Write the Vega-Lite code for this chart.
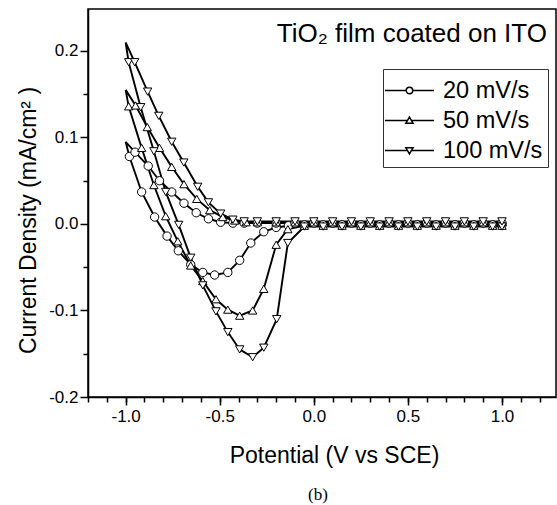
{
  "$schema": "https://vega.github.io/schema/vega-lite/v6.json",
  "width": 468,
  "height": 388,
  "autosize": "none",
  "padding": {"left": 88, "top": 9, "right": 1, "bottom": 108},
  "background": "white",
  "title": {"text": "(b)", "orient": "bottom", "anchor": "middle", "font": "Liberation Serif", "fontSize": 17, "fontWeight": "normal", "color": "black", "offset": 20, "dx": -4},
  "config": {
    "font": "Liberation Sans",
    "view": {"stroke": "black", "strokeWidth": 1.5},
    "axis": {"grid": false, "domainColor": "black", "domainWidth": 1.5, "tickColor": "black", "tickWidth": 1.5, "labelColor": "black", "labelFont": "Liberation Sans", "labelFontSize": 17, "titleColor": "black", "titleFont": "Liberation Sans", "titleFontSize": 23, "titleFontWeight": "normal", "labelOverlap": false, "labelFlush": false}
  },
  "data": {"values": [
    {"s":20,"i":0,"x":-1,"y":0.095},{"s":20,"i":1,"x":-0.98,"y":0.078},{"s":20,"i":2,"x":-0.915,"y":0.037},{"s":20,"i":3,"x":-0.846,"y":0.008},{"s":20,"i":4,"x":-0.78,"y":-0.014},{"s":20,"i":5,"x":-0.72,"y":-0.031},{"s":20,"i":6,"x":-0.654,"y":-0.047},{"s":20,"i":7,"x":-0.59,"y":-0.056},{"s":20,"i":8,"x":-0.527,"y":-0.059},{"s":20,"i":9,"x":-0.457,"y":-0.056},{"s":20,"i":10,"x":-0.394,"y":-0.042},{"s":20,"i":11,"x":-0.335,"y":-0.022},{"s":20,"i":12,"x":-0.266,"y":-0.009},{"s":20,"i":13,"x":-0.2,"y":-0.004},{"s":20,"i":14,"x":-0.135,"y":-0.002},{"s":20,"i":15,"x":-0.05,"y":-0.001},{"s":20,"i":16,"x":0.05,"y":-0.001},{"s":20,"i":17,"x":0.15,"y":-0.001},{"s":20,"i":18,"x":0.25,"y":-0.001},{"s":20,"i":19,"x":0.35,"y":-0.001},{"s":20,"i":20,"x":0.45,"y":-0.001},{"s":20,"i":21,"x":0.55,"y":-0.001},{"s":20,"i":22,"x":0.65,"y":-0.001},{"s":20,"i":23,"x":0.75,"y":-0.001},{"s":20,"i":24,"x":0.85,"y":-0.001},{"s":20,"i":25,"x":0.95,"y":-0.001},{"s":20,"i":26,"x":1,"y":-0.001},{"s":20,"i":27,"x":1,"y":0.001},{"s":20,"i":28,"x":0.9,"y":0.001},{"s":20,"i":29,"x":0.8,"y":0.001},{"s":20,"i":30,"x":0.7,"y":0.001},{"s":20,"i":31,"x":0.6,"y":0.001},{"s":20,"i":32,"x":0.5,"y":0.001},{"s":20,"i":33,"x":0.4,"y":0.001},{"s":20,"i":34,"x":0.3,"y":0.001},{"s":20,"i":35,"x":0.2,"y":0.001},{"s":20,"i":36,"x":0.1,"y":0.001},{"s":20,"i":37,"x":0,"y":0.001},{"s":20,"i":38,"x":-0.1,"y":0.001},{"s":20,"i":39,"x":-0.2,"y":0.001},{"s":20,"i":40,"x":-0.3,"y":0.001},{"s":20,"i":41,"x":-0.37,"y":0.001},{"s":20,"i":42,"x":-0.43,"y":0.001},{"s":20,"i":43,"x":-0.495,"y":0.002},{"s":20,"i":44,"x":-0.56,"y":0.006},{"s":20,"i":45,"x":-0.625,"y":0.013},{"s":20,"i":46,"x":-0.69,"y":0.024},{"s":20,"i":47,"x":-0.755,"y":0.037},{"s":20,"i":48,"x":-0.82,"y":0.05},{"s":20,"i":49,"x":-0.88,"y":0.067},{"s":20,"i":50,"x":-0.95,"y":0.083},{"s":20,"i":51,"x":-1,"y":0.095},
    {"s":50,"i":0,"x":-1,"y":0.155},{"s":50,"i":1,"x":-0.984,"y":0.136},{"s":50,"i":2,"x":-0.915,"y":0.088},{"s":50,"i":3,"x":-0.85,"y":0.045},{"s":50,"i":4,"x":-0.787,"y":0.009},{"s":50,"i":5,"x":-0.723,"y":-0.02},{"s":50,"i":6,"x":-0.654,"y":-0.048},{"s":50,"i":7,"x":-0.59,"y":-0.066},{"s":50,"i":8,"x":-0.52,"y":-0.087},{"s":50,"i":9,"x":-0.457,"y":-0.099},{"s":50,"i":10,"x":-0.394,"y":-0.106},{"s":50,"i":11,"x":-0.325,"y":-0.1},{"s":50,"i":12,"x":-0.266,"y":-0.075},{"s":50,"i":13,"x":-0.2,"y":-0.024},{"s":50,"i":14,"x":-0.138,"y":-0.006},{"s":50,"i":15,"x":-0.05,"y":-0.002},{"s":50,"i":16,"x":0.05,"y":-0.002},{"s":50,"i":17,"x":0.15,"y":-0.002},{"s":50,"i":18,"x":0.25,"y":-0.002},{"s":50,"i":19,"x":0.35,"y":-0.002},{"s":50,"i":20,"x":0.45,"y":-0.002},{"s":50,"i":21,"x":0.55,"y":-0.002},{"s":50,"i":22,"x":0.65,"y":-0.002},{"s":50,"i":23,"x":0.75,"y":-0.002},{"s":50,"i":24,"x":0.85,"y":-0.002},{"s":50,"i":25,"x":0.95,"y":-0.002},{"s":50,"i":26,"x":1,"y":-0.002},{"s":50,"i":27,"x":1,"y":0.002},{"s":50,"i":28,"x":0.9,"y":0.002},{"s":50,"i":29,"x":0.8,"y":0.002},{"s":50,"i":30,"x":0.7,"y":0.002},{"s":50,"i":31,"x":0.6,"y":0.002},{"s":50,"i":32,"x":0.5,"y":0.002},{"s":50,"i":33,"x":0.4,"y":0.002},{"s":50,"i":34,"x":0.3,"y":0.002},{"s":50,"i":35,"x":0.2,"y":0.002},{"s":50,"i":36,"x":0.1,"y":0.002},{"s":50,"i":37,"x":0,"y":0.002},{"s":50,"i":38,"x":-0.1,"y":0.002},{"s":50,"i":39,"x":-0.2,"y":0.002},{"s":50,"i":40,"x":-0.3,"y":0.002},{"s":50,"i":41,"x":-0.36,"y":0.002},{"s":50,"i":42,"x":-0.42,"y":0.004},{"s":50,"i":43,"x":-0.484,"y":0.008},{"s":50,"i":44,"x":-0.553,"y":0.016},{"s":50,"i":45,"x":-0.622,"y":0.029},{"s":50,"i":46,"x":-0.69,"y":0.046},{"s":50,"i":47,"x":-0.755,"y":0.066},{"s":50,"i":48,"x":-0.82,"y":0.088},{"s":50,"i":49,"x":-0.885,"y":0.112},{"s":50,"i":50,"x":-0.947,"y":0.137},{"s":50,"i":51,"x":-1,"y":0.155},
    {"s":100,"i":0,"x":-1,"y":0.21},{"s":100,"i":1,"x":-0.984,"y":0.187},{"s":100,"i":2,"x":-0.92,"y":0.135},{"s":100,"i":3,"x":-0.85,"y":0.084},{"s":100,"i":4,"x":-0.787,"y":0.037},{"s":100,"i":5,"x":-0.718,"y":-0.001},{"s":100,"i":6,"x":-0.654,"y":-0.039},{"s":100,"i":7,"x":-0.59,"y":-0.071},{"s":100,"i":8,"x":-0.52,"y":-0.101},{"s":100,"i":9,"x":-0.457,"y":-0.125},{"s":100,"i":10,"x":-0.394,"y":-0.145},{"s":100,"i":11,"x":-0.325,"y":-0.154},{"s":100,"i":12,"x":-0.266,"y":-0.143},{"s":100,"i":13,"x":-0.197,"y":-0.11},{"s":100,"i":14,"x":-0.138,"y":-0.022},{"s":100,"i":15,"x":-0.05,"y":-0.003},{"s":100,"i":16,"x":0.05,"y":-0.003},{"s":100,"i":17,"x":0.15,"y":-0.003},{"s":100,"i":18,"x":0.25,"y":-0.003},{"s":100,"i":19,"x":0.35,"y":-0.003},{"s":100,"i":20,"x":0.45,"y":-0.003},{"s":100,"i":21,"x":0.55,"y":-0.003},{"s":100,"i":22,"x":0.65,"y":-0.003},{"s":100,"i":23,"x":0.75,"y":-0.003},{"s":100,"i":24,"x":0.85,"y":-0.003},{"s":100,"i":25,"x":0.95,"y":-0.003},{"s":100,"i":26,"x":1,"y":-0.003},{"s":100,"i":27,"x":1,"y":0.003},{"s":100,"i":28,"x":0.9,"y":0.003},{"s":100,"i":29,"x":0.8,"y":0.003},{"s":100,"i":30,"x":0.7,"y":0.003},{"s":100,"i":31,"x":0.6,"y":0.003},{"s":100,"i":32,"x":0.5,"y":0.003},{"s":100,"i":33,"x":0.4,"y":0.003},{"s":100,"i":34,"x":0.3,"y":0.003},{"s":100,"i":35,"x":0.2,"y":0.003},{"s":100,"i":36,"x":0.1,"y":0.003},{"s":100,"i":37,"x":0,"y":0.003},{"s":100,"i":38,"x":-0.1,"y":0.003},{"s":100,"i":39,"x":-0.2,"y":0.003},{"s":100,"i":40,"x":-0.3,"y":0.003},{"s":100,"i":41,"x":-0.37,"y":0.003},{"s":100,"i":42,"x":-0.43,"y":0.005},{"s":100,"i":43,"x":-0.495,"y":0.012},{"s":100,"i":44,"x":-0.56,"y":0.025},{"s":100,"i":45,"x":-0.617,"y":0.043},{"s":100,"i":46,"x":-0.691,"y":0.071},{"s":100,"i":47,"x":-0.755,"y":0.095},{"s":100,"i":48,"x":-0.824,"y":0.125},{"s":100,"i":49,"x":-0.883,"y":0.153},{"s":100,"i":50,"x":-0.952,"y":0.187},{"s":100,"i":51,"x":-1,"y":0.21}
  ]},
  "layer": [
    {
      "mark": {"type": "line", "color": "black", "strokeWidth": 1.9},
      "encoding": {
        "x": {"field": "x", "type": "quantitative", "scale": {"domain": [-1.2, 1.287], "nice": false, "zero": false},
              "axis": {"orient": "bottom", "values": [-1, -0.5, 0, 0.5, 1], "tickSize": 8, "labelPadding": 3, "labelExpr": "(datum.value < 0 ? '-' : '') + format(abs(datum.value), '.1f')", "title": "Potential (V vs SCE)", "titlePadding": 20, "titleX": 246}},
        "y": {"field": "y", "type": "quantitative", "scale": {"domain": [-0.2, 0.2485], "nice": false, "zero": false},
              "axis": {"orient": "left", "values": [-0.2, -0.1, 0, 0.1, 0.2], "tickSize": 8, "labelPadding": 2, "labelExpr": "(datum.value < 0 ? '-' : '') + format(abs(datum.value), '.1f')", "title": "Current Density (mA/cm² )", "titlePadding": 8, "titleY": 211}},
        "detail": {"field": "s", "type": "nominal"},
        "order": {"field": "i", "type": "quantitative"}
      }
    },
    {
      "transform": [{"filter": "datum.x > -0.995"}],
      "mark": {"type": "point", "filled": true, "fill": "white", "stroke": "black", "strokeWidth": 1, "opacity": 1, "size": 70},
      "encoding": {
        "x": {"field": "x", "type": "quantitative", "axis": {"orient": "bottom", "values": [-1.2,-1.1,-1.0,-0.9,-0.8,-0.7,-0.6,-0.5,-0.4,-0.3,-0.2,-0.1,0,0.1,0.2,0.3,0.4,0.5,0.6,0.7,0.8,0.9,1.0,1.1,1.2], "tickSize": 5, "labels": false, "domain": false, "title": null}},
        "y": {"field": "y", "type": "quantitative", "axis": {"orient": "left", "values": [-0.15, -0.05, 0.05, 0.15], "tickSize": 5, "labels": false, "domain": false, "title": null}},
        "shape": {"field": "s", "type": "nominal", "scale": {"domain": [20, 50, 100], "range": ["circle", "triangle-up", "triangle-down"]}, "legend": null}
      }
    },
    {
      "transform": [{"filter": "datum.i < 0"}],
      "mark": {"type": "point", "filled": false, "color": "black", "strokeWidth": 1.5, "opacity": 1},
      "encoding": {
        "shape": {"field": "s", "type": "nominal",
          "scale": {"domain": [20, 50, 100], "range": [
            "M-1.26,0L0.11,0M0.53,0L1.9,0M0.53,0A0.21,0.21,0,1,1,0.11,0A0.21,0.21,0,1,1,0.53,0Z",
            "M-1.26,0L0.19,0M0.45,0L1.9,0M0.32,-0.22L0.55,0.17L0.09,0.17Z",
            "M-1.26,0L0.19,0M0.45,0L1.9,0M0.32,0.22L0.55,-0.17L0.09,-0.17Z"]},
          "legend": {"orient": "none", "legendX": 295, "legendY": 60, "title": null, "labelExpr": "datum.label + ' mV/s'", "labelFont": "Liberation Sans", "labelFontSize": 23.5, "labelColor": "black", "symbolSize": 961, "symbolStrokeWidth": 1.5, "symbolStrokeColor": "black", "symbolOpacity": 1, "strokeColor": "#333333", "padding": 5, "rowPadding": 2, "labelOffset": 22, "symbolOffset": 0}
        }
      }
    },
    {
      "data": {"values": [{}]},
      "mark": {"type": "text", "align": "right", "baseline": "alphabetic", "fontSize": 26, "font": "Liberation Sans", "color": "black"},
      "encoding": {
        "x": {"datum": 1.239, "type": "quantitative", "axis": null},
        "y": {"datum": 0.21, "type": "quantitative", "axis": null},
        "text": {"value": "TiO₂ film coated on ITO"}
      }
    }
  ],
  "resolve": {"scale": {"shape": "independent"}, "legend": {"shape": "independent"}, "axis": {"x": "independent", "y": "independent"}}
}
